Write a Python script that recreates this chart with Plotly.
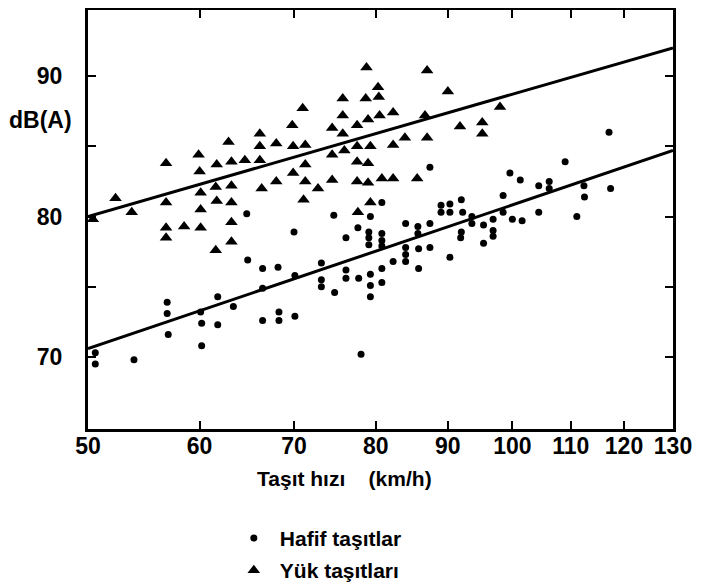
import plotly.graph_objects as go

# Hafif taşıtlar (light vehicles): speed km/h, level dB(A)
hafif_hiz = [50.6, 50.6, 53.9, 56.9, 56.9, 57.0, 60.1, 60.2, 60.2, 61.8, 61.8, 63.4,
             64.8, 64.9, 66.5, 68.2, 66.5, 66.5, 68.3, 68.3, 70.1, 70.0, 70.1, 73.2,
             73.2, 73.2, 74.8, 74.7, 76.2, 76.2, 76.2, 77.7, 77.8, 78.1, 79.3, 79.1,
             79.1, 79.1, 80.8, 80.8, 80.8, 80.8, 79.3, 79.3, 79.3, 80.8, 80.8, 82.3,
             87.4, 84.0, 84.0, 84.0, 84.0, 85.7, 85.7, 85.8, 85.8, 87.4, 87.4, 89.0,
             89.0, 90.3, 90.3, 90.3, 92.0, 92.2, 92.0, 91.9, 93.6, 93.6, 95.4, 95.4,
             96.9, 96.9, 96.9, 98.5, 98.5, 99.6, 101.3, 100.0, 101.6, 104.4, 106.2, 106.2,
             104.4, 109.0, 112.4, 112.5, 117.4, 111.1, 117.1]
hafif_db = [70.3, 69.5, 69.8, 73.9, 73.1, 71.6, 73.2, 72.4, 70.8, 74.3, 72.3, 73.6,
            80.2, 76.9, 76.3, 76.4, 74.9, 72.6, 73.2, 72.6, 72.9, 78.9, 75.8, 76.7,
            75.5, 75.0, 74.6, 80.1, 78.5, 76.2, 75.6, 79.2, 75.6, 70.2, 80.0, 78.9,
            78.5, 78.0, 81.0, 78.8, 78.3, 77.9, 75.9, 75.1, 74.3, 76.3, 75.3, 76.8,
            83.5, 79.5, 77.8, 77.3, 76.8, 79.3, 78.8, 77.7, 76.3, 79.5, 77.8, 80.8,
            80.3, 80.9, 80.3, 77.1, 81.2, 80.3, 78.9, 78.5, 80.0, 79.5, 79.4, 78.1,
            79.8, 79.0, 78.6, 81.5, 80.3, 83.1, 82.6, 79.8, 79.7, 82.2, 82.5, 82.0,
            80.3, 83.9, 82.2, 81.4, 82.0, 80.0, 86.0]

# Yük taşıtları (heavy vehicles)
yuk_hiz = [50.4, 52.3, 53.7, 56.8, 56.8, 56.8, 56.8, 58.5, 59.9, 60.0, 60.1, 60.1,
           60.1, 61.6, 61.7, 61.7, 61.6, 62.9, 63.2, 63.2, 63.2, 63.2, 63.2, 64.6,
           66.2, 66.2, 68.0, 69.9, 71.3, 66.2, 66.4, 68.0, 69.8, 71.0, 71.3, 69.9,
           71.3, 71.1, 72.8, 74.5, 74.5, 76.0, 74.5, 75.8, 75.8, 75.8, 77.6, 79.0,
           80.5, 82.3, 77.6, 79.3, 82.3, 77.6, 79.0, 77.6, 79.0, 80.8, 82.3, 77.7,
           79.3, 78.8, 80.3, 80.4, 78.7, 87.0, 90.0, 98.0, 86.7, 91.8, 95.2, 95.2,
           83.9, 87.0, 85.6]
yuk_db = [79.8, 81.3, 80.3, 83.8, 81.0, 79.2, 78.5, 79.3, 84.4, 83.2, 81.7, 80.5,
          79.2, 82.1, 83.7, 81.1, 77.6, 85.3, 83.9, 82.2, 81.0, 79.6, 78.2, 84.0,
          85.9, 85.0, 85.2, 85.0, 85.1, 84.0, 82.0, 82.5, 86.5, 87.7, 83.7, 83.1,
          82.5, 81.2, 82.0, 82.6, 84.4, 84.7, 86.3, 88.4, 87.2, 85.9, 86.5, 86.9,
          87.2, 87.4, 85.0, 85.0, 85.1, 83.9, 83.8, 82.5, 82.4, 82.7, 82.7, 80.3,
          81.0, 90.6, 89.2, 88.5, 88.4, 90.4, 88.9, 87.8, 87.2, 86.4, 86.7, 85.9,
          85.6, 85.6, 82.7]

# Regression lines
reg_hiz = [50, 130]
hafif_reg_db = [70.6, 84.7]
yuk_reg_db = [80.0, 92.0]

x_ticks = [50, 60, 70, 80, 90, 100, 110, 120, 130]
y_ticks = [70, 75, 80, 85, 90]
y_ticktext = ["70", "", "80", "", "90"]

FONT = "Liberation Sans, Arial, sans-serif"

fig = go.Figure()
fig.add_trace(go.Scatter(x=reg_hiz, y=hafif_reg_db, mode="lines",
                         line=dict(color="black", width=3), showlegend=False,
                         hoverinfo="skip"))
fig.add_trace(go.Scatter(x=reg_hiz, y=yuk_reg_db, mode="lines",
                         line=dict(color="black", width=3), showlegend=False,
                         hoverinfo="skip"))
fig.add_trace(go.Scatter(x=hafif_hiz, y=hafif_db, mode="markers",
                         name="Hafif taşıtlar", legendgroup="a",
                         marker=dict(symbol="circle", size=7, color="black")))
fig.add_trace(go.Scatter(x=yuk_hiz, y=yuk_db, mode="markers",
                         name="Yük taşıtları", legendgroup="b",
                         marker=dict(symbol="triangle-up", size=11, color="black")))

fig.update_layout(
    width=707, height=583,
    margin=dict(l=80, r=42, t=2, b=162, autoexpand=False),
    paper_bgcolor="white", plot_bgcolor="white",
    font=dict(family=FONT, color="black", size=20, weight="bold"),
    legend=dict(x=0.239, y=-0.212, xanchor="left", yanchor="top",
                font=dict(size=21, family=FONT, weight="bold"),
                bgcolor="rgba(0,0,0,0)", tracegroupgap=2, itemwidth=42),
    xaxis=dict(type="log", range=[1.69897, 2.11394],
               tickmode="array", tickvals=x_ticks,
               ticktext=[str(v) for v in x_ticks],
               ticks="inside", ticklen=8, tickwidth=2, tickcolor="black",
               showline=True, linewidth=3, linecolor="black", mirror="ticks",
               showgrid=False, zeroline=False, ticklabelstandoff=-6,
               tickfont=dict(size=23, family=FONT, weight="bold")),
    yaxis=dict(range=[64.88, 94.70],
               tickmode="array", tickvals=y_ticks, ticktext=y_ticktext,
               ticks="inside", ticklen=8, tickwidth=2, tickcolor="black",
               showline=True, linewidth=3, linecolor="black", mirror="ticks",
               showgrid=False, zeroline=False, ticklabelstandoff=18,
               tickfont=dict(size=23, family=FONT, weight="bold")),
    annotations=[
        dict(text="dB(A)", xref="paper", yref="paper", x=-0.082, y=0.737,
             xanchor="center", yanchor="middle",
             showarrow=False, font=dict(size=23, family=FONT, weight="bold")),
        dict(text="Taşıt hızı\u00a0\u00a0\u00a0\u00a0(km/h)", xref="paper", yref="paper",
             x=0.439, y=-0.119, xanchor="center", yanchor="middle", showarrow=False,
             font=dict(size=21, family=FONT, weight="bold")),
    ],
)

fig.write_html("out.html")
